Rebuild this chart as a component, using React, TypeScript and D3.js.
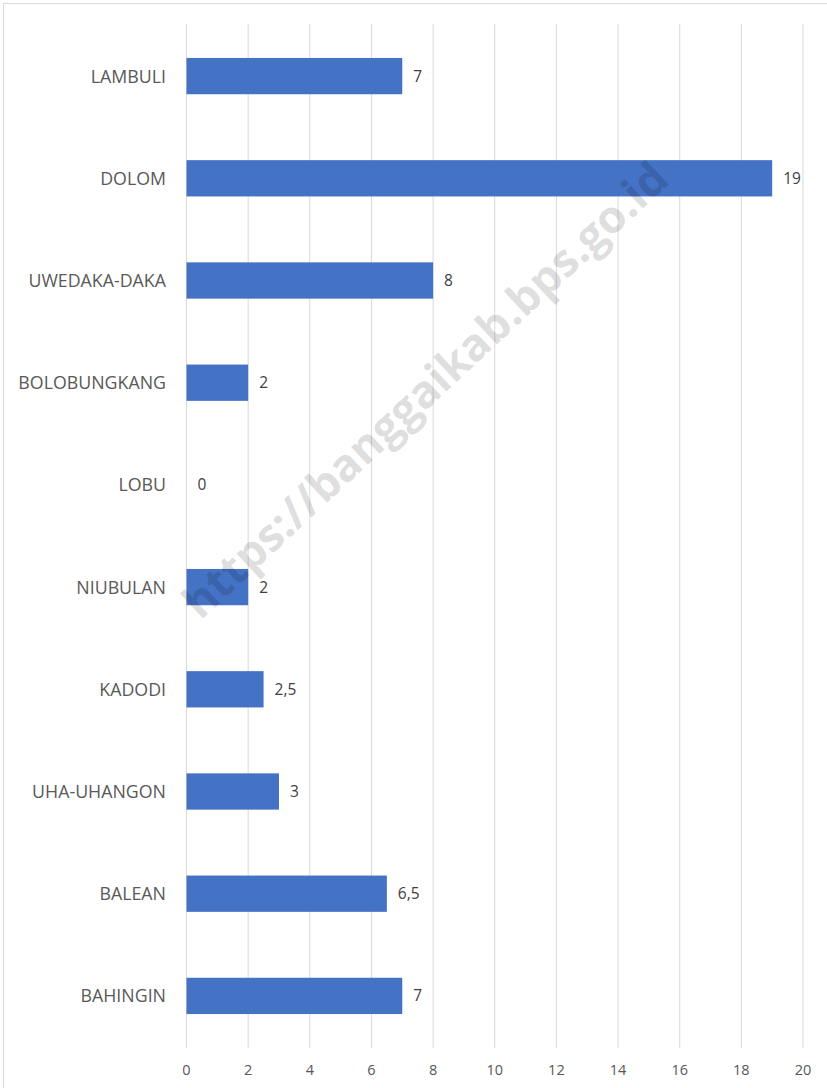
import React from "react";
import * as d3 from "d3";

const categories = ["LAMBULI", "DOLOM", "UWEDAKA-DAKA", "BOLOBUNGKANG", "LOBU", "NIUBULAN", "KADODI", "UHA-UHANGON", "BALEAN", "BAHINGIN"];
const values = [7, 19, 8, 2, 0, 2, 2.5, 3, 6.5, 7];
const valueLabels = ["7", "19", "8", "2", "0", "2", "2,5", "3", "6,5", "7"];
const xTicks = [0, 2, 4, 6, 8, 10, 12, 14, 16, 18, 20];
const watermark = "https://banggaikab.bps.go.id";

const W = 827;
const H = 1088;
const FONT = "'Open Sans', sans-serif";

export default function App() {
  const x = d3.scaleLinear().domain([0, 20]).range([186.5, 803]);
  const y = d3.scaleBand<string>().domain(categories).range([25, 1047]).paddingInner(0.645).paddingOuter(0.3225);

  return (
    <svg width={W} height={H} style={{ position: "absolute", left: 0, top: 0, background: "#fff" }}>
      <rect x={3.5} y={3.5} width={W + 10} height={H + 10} fill="#fff" stroke="#d9d9d9" strokeWidth={1} />
      {xTicks.map((t) => (
        <g key={t}>
          <line x1={x(t)} x2={x(t)} y1={24} y2={1048} stroke="#d9d9d9" strokeWidth={1} />
          <text x={x(t)} y={1075} textAnchor="middle" fontFamily={FONT} fontSize={14.5} fill="#595959">{t}</text>
        </g>
      ))}
      {categories.map((c, i) => (
        <g key={c}>
          {values[i] > 0 && (
            <rect x={x(0)} y={y(c)!} width={x(values[i]) - x(0)} height={y.bandwidth()} fill="#4472C4" />
          )}
          <text x={166} y={y(c)! + y.bandwidth() / 2} dy="0.36em" textAnchor="end" fontFamily={FONT} fontSize={17.8} fill="#595959">{c}</text>
          <text x={x(values[i]) + 11} y={y(c)! + y.bandwidth() / 2} dy="0.36em" textAnchor="start" fontFamily={FONT} fontSize={15.5} fill="#404040">{valueLabels[i]}</text>
        </g>
      ))}
      <text x={425} y={390} textAnchor="middle" dy="0.35em" transform="rotate(-43 425 390)" fontFamily={FONT} fontWeight="bold" fontSize={45} fill="#000" fillOpacity={0.15}>{watermark}</text>
    </svg>
  );
}
